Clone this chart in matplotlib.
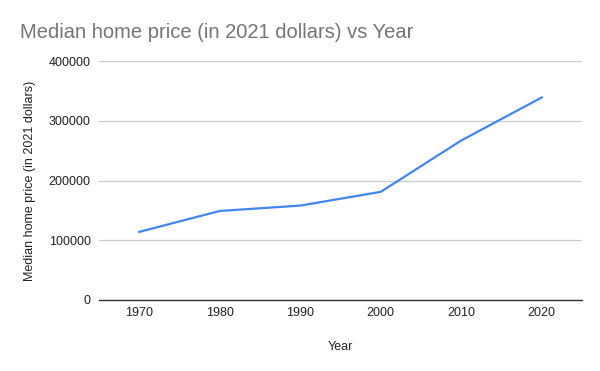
import matplotlib.pyplot as plt

years = ["1970", "1980", "1990", "2000", "2010", "2020"]
prices = [114000, 149000, 158000, 181000, 267000, 339000]
y_ticks = [0, 100000, 200000, 300000, 400000]

plt.rcParams["font.family"] = ["Liberation Sans", "DejaVu Sans"]

fig = plt.figure(figsize=(6, 3.71), dpi=100)
ax = fig.add_axes([99 / 600, 1 - 300 / 371, 483 / 600, 239 / 371])

x = list(range(len(years)))
ax.plot(x, prices, color="#4285F4", linewidth=1.6, solid_joinstyle="round")

ax.set_xlim(-0.5, len(years) - 0.5)
ax.set_ylim(0, 400000)
ax.set_xticks(x)
ax.set_xticklabels(years)
ax.set_yticks(y_ticks)
ax.set_yticklabels([str(v) for v in y_ticks])

ax.grid(axis="y", color="#cccccc", linewidth=0.9)
ax.set_axisbelow(True)
for side in ["top", "right", "left"]:
    ax.spines[side].set_visible(False)
ax.spines["bottom"].set_color("#333333")
ax.spines["bottom"].set_linewidth(1.0)
ax.spines["bottom"].set_zorder(3)

ax.tick_params(axis="x", length=0, pad=5, labelsize=9, labelcolor="#222222")
ax.tick_params(axis="y", length=0, pad=6, labelsize=9, labelcolor="#222222")

ax.set_xlabel("Year", fontsize=9, color="#222222", labelpad=16)
ax.set_ylabel("Median home price (in 2021 dollars)", fontsize=9, color="#222222", labelpad=9)

fig.text(20 / 600, 1 - 32 / 371, "Median home price (in 2021 dollars) vs Year",
         fontsize=14.5, color="#757575", va="center", ha="left")

fig.savefig("out.png", dpi=100)
